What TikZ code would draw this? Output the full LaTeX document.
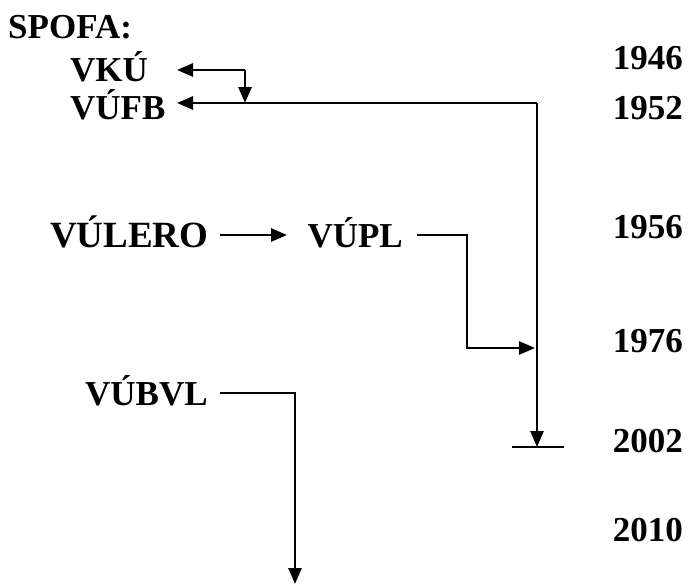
\documentclass[tikz,border=0pt]{standalone}
\usepackage{fontspec}
\setmainfont{Liberation Serif}
\usetikzlibrary{arrows.meta}

\begin{document}
\begin{tikzpicture}[x=1pt,y=-1pt,
  lbl/.style={font=\fontsize{35}{40}\selectfont\bfseries,inner sep=0pt,anchor=base west},
  yr/.style={lbl,anchor=base east},
  ln/.style={line width=2.8pt},
  arr/.style={ln,-{Triangle[length=16pt,width=13pt]}}]
\useasboundingbox(0,0)rectangle(691,584);
% organizace
\node[lbl](spofa)at(8,38){SPOFA:};
\node[lbl](vku)at(70,81){VKÚ};
\node[lbl](vufb)at(70,119){VÚFB};
\node[lbl,font=\fontsize{37}{40}\selectfont\bfseries](vulero)at(50,247){VÚLERO};
\node[lbl,anchor=base east](vupl)at(403,247){VÚPL};
\node[lbl](vubvl)at(85,405){VÚBVL};
% roky
\node[yr](r1946)at(683,69){1946};
\node[yr](r1952)at(683,119){1952};
\node[yr](r1956)at(683,238){1956};
\node[yr](r1976)at(683,352){1976};
\node[yr](r2002)at(683,452){2002};
\node[yr](r2010)at(683,541){2010};
% body spojnic
\coordinate(k1)at(245,70);
\coordinate(k2)at(537,103);
\coordinate(konec)at(537,447);
\coordinate(p1)at(467,235);
\coordinate(b1)at(295,393);
\coordinate(dno)at(295,584);
% spojnice
\draw[arr](k1)--(177,70);
\draw[arr](k1)--(k1|-k2);
\draw[arr](k2)--(177,103);
\draw[arr](k2)--(konec);
\draw[ln](512,447)--(564,447);
\draw[arr](220,235)--(287,235);
\draw[arr](417,235)--(p1)--(467,348)--(535,348);
\draw[arr](220,393)--(b1)--(dno);
\end{tikzpicture}
\end{document}
